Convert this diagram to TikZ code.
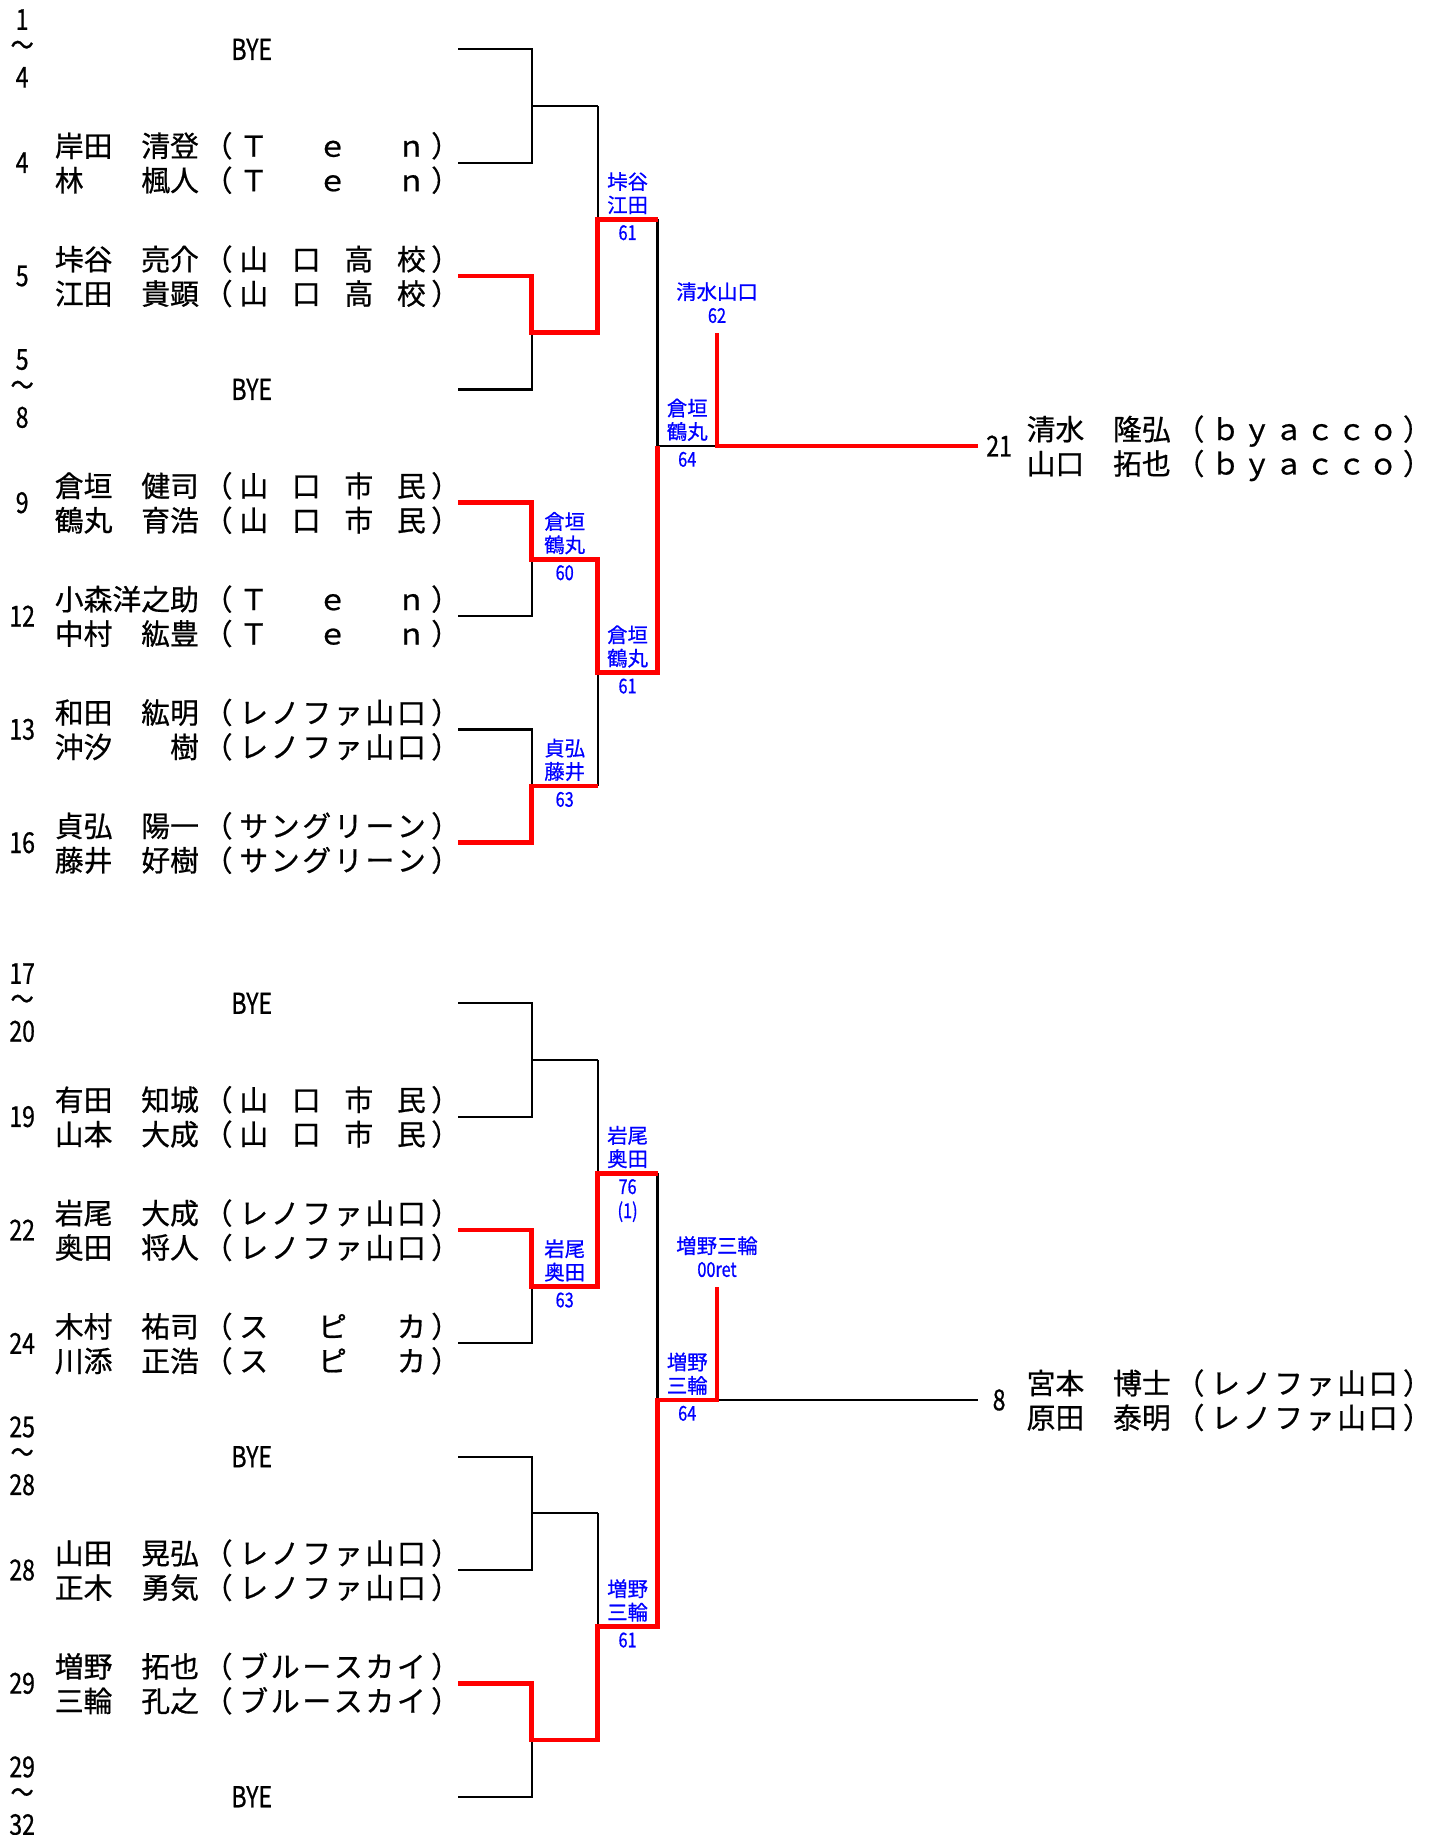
\documentclass[tikz,border=0pt]{standalone}
\usepackage{fontspec}
\setmainfont{Noto Sans CJK JP}[FakeBold=0.7]
\newfontfamily\narrowfont{Noto Sans CJK JP}[FakeStretch=0.8, FakeBold=0.7]
\usetikzlibrary{calc}

\begin{document}
\begin{tikzpicture}[
		x=0.23333mm, y=-0.23333mm,
		bracket line/.style={line width=1.3pt, line join=miter},
		winner line/.style={red, line width=2.6pt, line join=miter},
		every node/.style={inner sep=0pt, outer sep=0pt},
		]
		\tikzset{
			nameNode/.style={font=\fontsize{16.4}{18}\selectfont},
			seedNode/.style={font=\narrowfont\fontsize{16.4}{18}\selectfont},
			winNode/.style={blue, align=center, font=\fontsize{11.6}{13.3}\selectfont},
			scoreNode/.style={blue, align=center, font=\narrowfont\fontsize{11.6}{13.7}\selectfont},
		}
		\useasboundingbox (0,0) rectangle (1229.2,1572.9);
		
		\foreach \blk/\off in {a/0, b/817.7}{
			\foreach \k in {0,...,7}{
				\coordinate (\blk o\k) at (0, 42.3+97.15*\k+\off);
				\coordinate (\blk e\k) at (393, 42.3+97.15*\k+\off);
			}
			\foreach \k in {0,...,3}{
				\coordinate (\blk j\k) at (455.8, 90.875+194.3*\k+\off);
				\coordinate (\blk m\k) at (512.3, 90.875+194.3*\k+\off);
			}
			\foreach \k in {0,1}{
				\coordinate (\blk n\k) at (512.3, 188.025+388.6*\k+\off);
				\coordinate (\blk s\k) at (563.6, 188.025+388.6*\k+\off);
			}
			\coordinate (\blk t) at (563.6, 382.3+\off);
			\coordinate (\blk f) at (614.6, 382.3+\off);
			\coordinate (\blk w) at (614.6, 285.7+\off);
			\coordinate (\blk z) at (838, 382.3+\off);
			\coordinate (\blk r) at (833, 382.3+\off);
			
			% black bracket
			\foreach \k [evaluate=\k as \u using int(2*\k), evaluate=\k as \v using int(2*\k+1)] in {0,...,3}{
				\draw[bracket line] (\blk e\u) -| (\blk j\k) |- (\blk e\v) (\blk j\k) -- (\blk m\k);
			}
			\draw[bracket line] (\blk m0) -- (\blk m1) (\blk n0) -- (\blk s0)
			(\blk m2) -- (\blk m3) (\blk n1) -- (\blk s1)
			(\blk s0) -- (\blk s1) (\blk t) -- (\blk f) -- (\blk z);
		}
		
		% winners
		\draw[winner line] (ae2) -| (aj1) -- (am1) |- (as0);
		\draw[winner line] (ae4) -| (aj2) -- (am2) |- (as1) -- (at);
		\draw[winner line] (ae7) -| (aj3) -- (am3);
		\draw[winner line] (aw) -- (af) -- (az);
		\draw[winner line] (be2) -| (bj1) -- (bm1) |- (bs0);
		\draw[winner line] (be6) -| (bj3) -- (bm3) |- (bs1) -- (bt) -- (bf) -- (bw);
		
		% players
		\foreach \base/\sx/\seed/\sa/\ga/\sb/\gb/\team in {
			ao1/19/4/岸田/清登/林/楓人/{Ｔ\hfill ｅ\hfill ｎ},
			ao2/19/5/垰谷/亮介/江田/貴顕/{山\hfill 口\hfill 高\hfill 校},
			ao4/19/9/倉垣/健司/鶴丸/育浩/{山\hfill 口\hfill 市\hfill 民},
			ao5/19/12/小森洋之助//中村/紘豊/{Ｔ\hfill ｅ\hfill ｎ},
			ao6/19/13/和田/紘明/沖汐/樹/{レ\hfill ノ\hfill フ\hfill ァ\hfill 山\hfill 口},
			ao7/19/16/貞弘/陽一/藤井/好樹/{サ\hfill ン\hfill グ\hfill リ\hfill ー\hfill ン},
			ar/23.4/21/清水/隆弘/山口/拓也/{ｂ\hfill ｙ\hfill ａ\hfill ｃ\hfill ｃ\hfill ｏ},
			bo1/19/19/有田/知城/山本/大成/{山\hfill 口\hfill 市\hfill 民},
			bo2/19/22/岩尾/大成/奥田/将人/{レ\hfill ノ\hfill フ\hfill ァ\hfill 山\hfill 口},
			bo3/19/24/木村/祐司/川添/正浩/{ス\hfill ピ\hfill カ},
			bo5/19/28/山田/晃弘/正木/勇気/{レ\hfill ノ\hfill フ\hfill ァ\hfill 山\hfill 口},
			bo6/19/29/増野/拓也/三輪/孔之/{ブ\hfill ル\hfill ー\hfill ス\hfill カ\hfill イ},
			br/23.4/8/宮本/博士/原田/泰明/{レ\hfill ノ\hfill フ\hfill ァ\hfill 山\hfill 口}}{
			\node[seedNode] (\base-seed) at ($(\base)+(\sx,0)$) {\seed};
			\node[nameNode, anchor=base west] (\base-sa) at ($(\base)+(47,-5.1)$) {\sa};
			\node[nameNode, anchor=base east] (\base-ga) at ($(\base)+(170.5,-5.1)$) {\ga};
			\node[nameNode, anchor=base west] (\base-sb) at ($(\base)+(47,24.4)$) {\sb};
			\node[nameNode, anchor=base east] (\base-gb) at ($(\base)+(170.5,24.4)$) {\gb};
			\foreach \dy/\l in {-5.1/a, 24.4/b}{
				\node[nameNode, anchor=base] (\base-lp\l) at ($(\base)+(187,\dy)$) {（};
				\node[nameNode, anchor=base west] (\base-tm\l) at ($(\base)+(205.15,\dy)$) {\hbox to 106.1pt{\team}};
				\node[nameNode, anchor=base] (\base-rp\l) at ($(\base)+(382,\dy)$) {）};
			}
		}
		
		% byes
		\foreach \base/\first/\last in {ao0/1/4, ao3/5/8, bo0/17/20, bo4/25/28, bo7/29/32}{
			\node[seedNode] (\base-first) at ($(\base)+(19,-25.5)$) {\first};
			\node[seedNode] (\base-wave) at ($(\base)+(19,-1)$) {〜};
			\node[seedNode] (\base-last) at ($(\base)+(19,24)$) {\last};
			\node[seedNode] (\base-bye) at ($(\base)+(215.8,0)$) {BYE};
		}
		
		% results
		\foreach \pa/\pb/\pair/\score [count=\i] in {
			aj2/am2/{倉垣\\鶴丸}/60, aj3/am3/{貞弘\\藤井}/63,
			an0/as0/{垰谷\\江田}/61, an1/as1/{倉垣\\鶴丸}/61, at/af/{倉垣\\鶴丸}/64,
			bj1/bm1/{岩尾\\奥田}/63, bn0/bs0/{岩尾\\奥田}/{76\\(1)},
			bn1/bs1/{増野\\三輪}/61, bt/bf/{増野\\三輪}/64}{
			\node[winNode] (win\i) at ($(\pa)!.5!(\pb)+(0,-22.5)$) {\pair};
			\node[scoreNode, anchor=north] (score\i) at ($(\pa)!.5!(\pb)+(0,5)$) {\score};
		}
		\node[winNode] (champA) at ($(aw)+(0,-35.7)$) {清水山口};
		\node[scoreNode] (champAscore) at ($(aw)+(0,-15.2)$) {62};
		\node[winNode] (champB) at ($(bw)+(0,-35.7)$) {増野三輪};
		\node[scoreNode] (champBscore) at ($(bw)+(0,-15.2)$) {00ret};
	\end{tikzpicture}
\end{document}
